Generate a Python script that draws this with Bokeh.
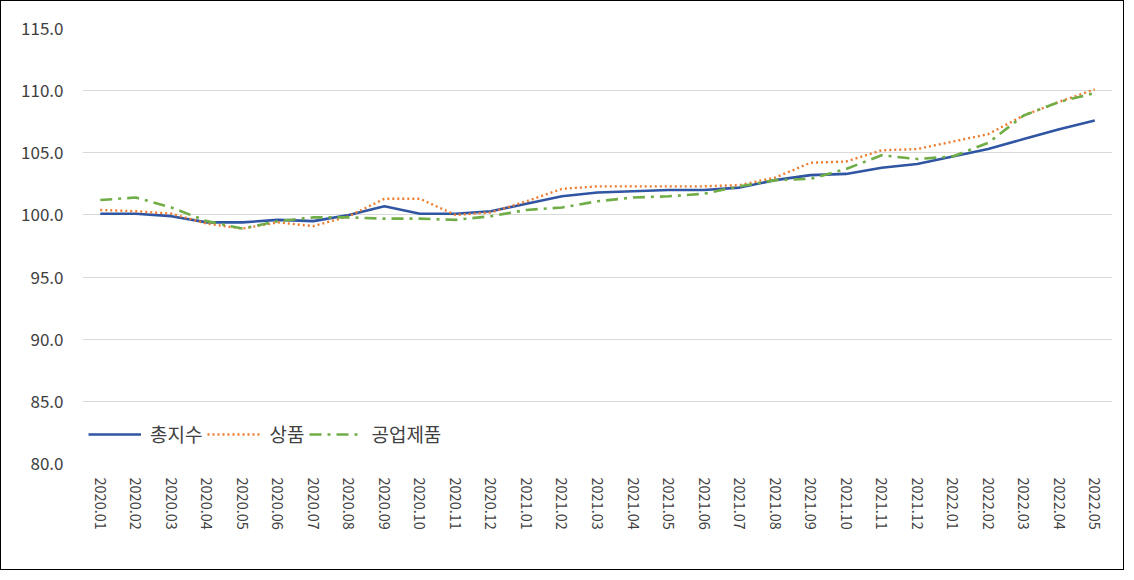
from bokeh.plotting import figure
from bokeh.models import FixedTicker, Legend, LegendItem, FactorRange, Range1d
from bokeh.embed import file_html
from bokeh.resources import INLINE

months = ["2020.01","2020.02","2020.03","2020.04","2020.05","2020.06","2020.07","2020.08","2020.09","2020.10","2020.11","2020.12",
          "2021.01","2021.02","2021.03","2021.04","2021.05","2021.06","2021.07","2021.08","2021.09","2021.10","2021.11","2021.12",
          "2022.01","2022.02","2022.03","2022.04","2022.05"]
total = [100.1,100.1,99.9,99.4,99.4,99.6,99.5,100.0,100.7,100.1,100.1,100.3,100.9,101.5,101.8,101.9,102.0,102.0,102.2,
         102.8,103.2,103.3,103.8,104.1,104.7,105.3,106.1,106.9,107.6]
goods = [100.4,100.3,100.1,99.3,98.9,99.4,99.1,99.9,101.3,101.3,100.0,100.2,101.1,102.1,102.3,102.3,102.3,102.3,102.4,
         103.0,104.2,104.3,105.2,105.3,105.9,106.5,108.0,109.1,110.1]
industrial = [101.2,101.4,100.6,99.5,98.9,99.5,99.8,99.8,99.7,99.7,99.6,99.9,100.4,100.6,101.1,101.4,101.5,101.7,102.3,
              102.8,102.9,103.7,104.8,104.5,104.7,105.8,108.0,109.1,109.8]
series_names = ["총지수", "상품", "공업제품"]
y_ticks = [80, 85, 90, 95, 100, 105, 110, 115]
y_tick_labels = ["80.0", "85.0", "90.0", "95.0", "100.0", "105.0", "110.0", "115.0"]

p = figure(width=1124, height=570, x_range=FactorRange(*months), y_range=Range1d(80, 115),
           output_backend="svg", toolbar_location=None,
           min_border_left=81, min_border_right=13, min_border_top=27, min_border_bottom=108)
p.styles = {"border": "1px solid #000000"}
p.outline_line_color = None
p.background_fill_color = "white"
p.border_fill_color = "white"

p.xgrid.grid_line_color = None
p.ygrid.grid_line_color = "#d9d9d9"
p.ygrid.grid_line_width = 1

p.yaxis.ticker = FixedTicker(ticks=y_ticks)
p.yaxis.major_label_overrides = {t: l for t, l in zip(y_ticks, y_tick_labels)}
for ax in (p.xaxis, p.yaxis):
    ax.axis_line_color = None
    ax.major_tick_line_color = None
    ax.minor_tick_line_color = None
    ax.major_tick_out = 0
    ax.major_tick_in = 0
    ax.major_label_text_color = "#404040"
    ax.major_label_text_font = "Noto Sans CJK KR"
p.yaxis.major_label_text_font_size = "17px"
p.yaxis.major_label_standoff = 19
p.xaxis.major_label_text_font_size = "14.5px"
p.xaxis.major_label_orientation = "vertical"
p.xaxis.major_label_standoff = 14

r1 = p.line(months, total, line_color="#2F55A3", line_width=2.6)
r2 = p.line(months, goods, line_color="#ED7D31", line_width=2.4, line_dash="2 3")
r3 = p.line(months, industrial, line_color="#70AD47", line_width=2.6, line_dash="12 6 3 6")

legend = Legend(items=[LegendItem(label=series_names[0], renderers=[r1]),
                       LegendItem(label=series_names[1], renderers=[r2]),
                       LegendItem(label=series_names[2], renderers=[r3])],
                orientation="horizontal", location=(6, 16),
                glyph_width=53, glyph_height=20, label_standoff=9, spacing=5,
                padding=0, margin=0, border_line_color=None, background_fill_alpha=0,
                label_text_font="Noto Sans CJK KR", label_text_font_size="19px",
                label_text_color="#404040")
p.add_layout(legend, "center")

open("out.html", "w").write(file_html(p, INLINE))
